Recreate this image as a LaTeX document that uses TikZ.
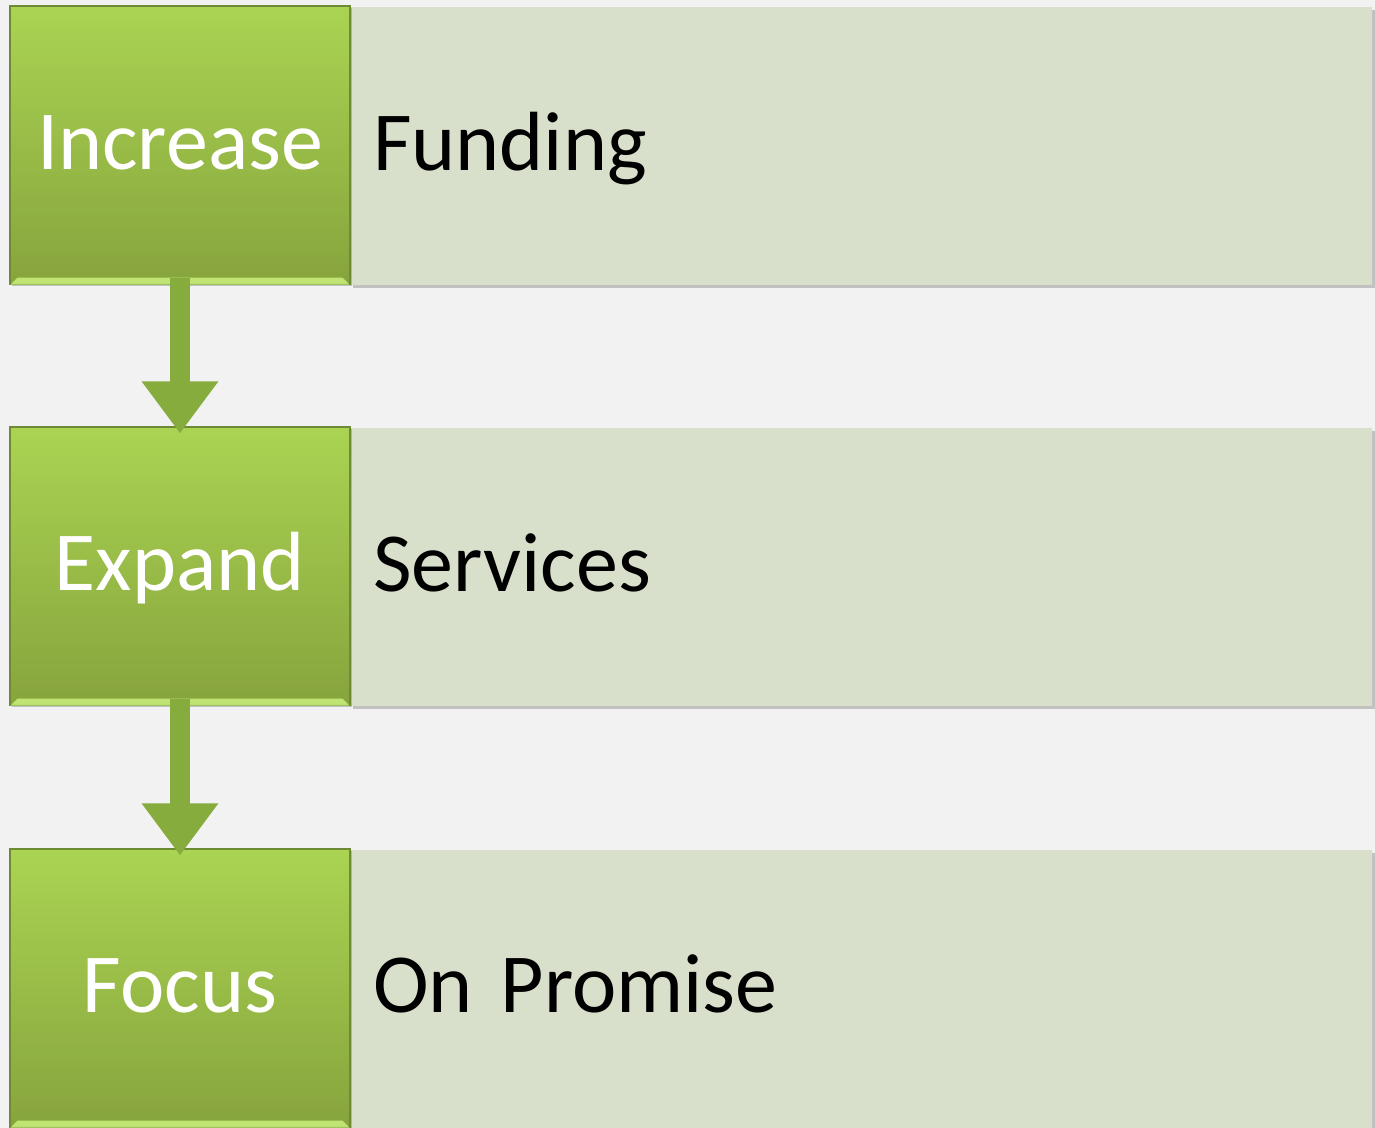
\documentclass[tikz,border=0pt]{standalone}
\usepackage{fontspec}
\setmainfont{Carlito}[WordSpace=0.75]
\usetikzlibrary{arrows.meta,shadows,calc}
\definecolor{bgc}{HTML}{F2F2F2}
\definecolor{gtop}{HTML}{AAD452}
\definecolor{gbot}{HTML}{87A43D}
\definecolor{gedge}{HTML}{6E8A34}
\definecolor{gbevel}{HTML}{C9F07E}
\definecolor{rbox}{HTML}{D8E0CB}
\definecolor{arrc}{HTML}{86AC3D}
\newcommand\diagbigtxt{\fontsize{63}{70}\selectfont}
\tikzset{
  greenbox/.style={rectangle, minimum width=255pt, minimum height=208.5pt,
    top color=gtop, bottom color=gbot, draw=gedge, line width=0.8pt,
    text=white, font=\diagbigtxt, text height=36pt, text depth=0pt,
    inner sep=0pt, drop shadow={shadow xshift=1.5pt, shadow yshift=-1.5pt, opacity=0.35, fill=black!60}},
  sidebox/.style={rectangle, minimum width=766.5pt, minimum height=208.5pt,
    fill=rbox, draw=none, text=black, font=\diagbigtxt,
    text height=36pt, text depth=0pt, inner xsep=17.25pt, inner ysep=0pt,
    text width=732pt, align=left,
    drop shadow={shadow xshift=2.5pt, shadow yshift=-2.5pt, opacity=0.35, fill=black!60}},
  flowarrow/.style={draw=arrc, line width=15pt,
    -{Triangle[width=54.75pt,length=39pt]},
    shorten >=-5.25pt, shorten <=-5.25pt},
  bevel/.style={fill=gbevel, opacity=0.85}
}
\begin{document}
\begin{tikzpicture}[x=0.75pt,y=-0.75pt]
\fill[bgc] (0,0) rectangle (1375,1128);
\useasboundingbox (0,0) rectangle (1375,1128);

\node[sidebox] (s1) at (861,146) {Funding};
\node[sidebox] (s2) at (861,567) {Services};
\node[sidebox] (s3) at (861,988.5) {On Promise};

\node[greenbox] (g1) at (180,145) {Increase};
\node[greenbox] (g2) at (180,566) {Expand};
\node[greenbox] (g3) at (180,988) {Focus};

\foreach \g in {g1,g2,g3}{
  \fill[bevel] ($(\g.south west)+(1,0)$) -- ($(\g.south east)+(-1,0)$)
     -- ($(\g.south east)+(-8,-7)$) -- ($(\g.south west)+(8,-7)$) -- cycle;
}

\draw[flowarrow] (g1.south) -- (g2.north);
\draw[flowarrow] (g2.south) -- (g3.north);
\end{tikzpicture}
\end{document}
